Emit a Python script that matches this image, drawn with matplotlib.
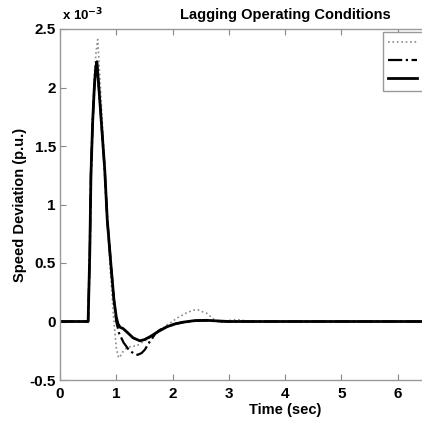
import matplotlib
matplotlib.use("Agg")
import matplotlib.pyplot as plt

plt.rcParams['font.family'] = ['Liberation Sans', 'DejaVu Sans']
plt.rcParams['font.weight'] = 'bold'

# Speed deviation values in units of 1e-3 p.u.
t_dotted = [0, 0.50, 0.505, 0.53, 0.55, 0.58, 0.61, 0.64, 0.67, 0.69, 0.73, 0.79, 0.84, 0.90,
            0.95, 1.00, 1.04, 1.08, 1.13, 1.19, 1.28, 1.36, 1.45, 1.60, 1.75, 1.90, 2.00,
            2.08, 2.14, 2.25, 2.37, 2.45, 2.55, 2.61, 2.73, 2.85, 2.95, 3.02, 3.14, 3.25,
            3.35, 10]
v_dotted = [0, 0, 0.1, 0.6, 1.25, 1.75, 2.1, 2.3, 2.41, 2.25, 1.9, 1.35, 0.85, 0.4,
            0.05, -0.22, -0.31, -0.29, -0.25, -0.225, -0.21, -0.21, -0.18, -0.14, -0.085,
            -0.03, 0.0, 0.03, 0.045, 0.074, 0.097, 0.1, 0.08, 0.07, 0.02, -0.006, 0.0,
            0.01, 0.017, 0.01, 0.0, 0]

t_dashdot = [0, 0.50, 0.505, 0.53, 0.55, 0.58, 0.61, 0.635, 0.655, 0.68, 0.724, 0.795, 0.84,
             0.913, 0.96, 1.00, 1.05, 1.13, 1.22, 1.30, 1.38, 1.45, 1.51, 1.57, 1.63, 1.70,
             1.78, 1.90, 2.05, 2.20, 2.40, 2.60, 2.80, 3.00, 10]
v_dashdot = [0, 0, 0.1, 0.6, 1.25, 1.7, 2.0, 2.17, 2.22, 2.07, 1.78, 1.30, 0.87,
             0.44, 0.18, 0.0, -0.1, -0.18, -0.24, -0.27, -0.285, -0.27, -0.24, -0.19, -0.15,
             -0.1, -0.07, -0.045, -0.02, -0.005, 0.005, 0.008, 0.003, 0, 0]

t_solid = [0, 0.50, 0.505, 0.53, 0.55, 0.58, 0.61, 0.635, 0.655, 0.68, 0.724, 0.795, 0.84,
           0.913, 0.96, 1.00, 1.03, 1.07, 1.12, 1.19, 1.30, 1.42, 1.50, 1.60, 1.75, 1.90,
           2.05, 2.20, 2.40, 2.60, 2.80, 3.00, 10]
v_solid = [0, 0, 0.1, 0.6, 1.25, 1.7, 2.0, 2.17, 2.22, 2.07, 1.78, 1.30, 0.87,
           0.44, 0.18, 0.04, -0.02, -0.05, -0.06, -0.09, -0.14, -0.165, -0.155, -0.13,
           -0.085, -0.045, -0.02, -0.005, 0.008, 0.01, 0.005, 0.0, 0]

labels = ['CPSS', 'GA-PSS', 'Proposed PSS']
x_ticks = [0, 1, 2, 3, 4, 5, 6]
y_ticks = [-0.5, 0, 0.5, 1, 1.5, 2, 2.5]
y_ticklabels = ['-0.5', '0', '0.5', '1', '1.5', '2', '2.5']

W, H = 422, 425
fig = plt.figure(figsize=(W / 100, H / 100), dpi=100)
ax = fig.add_axes([60 / W, 45 / H, 450 / W, 351 / H])

ax.plot(t_dotted, v_dotted, color='#8a8a8a', linestyle=':', linewidth=1.2, label=labels[0])
ax.plot(t_dashdot, v_dashdot, color='black', linestyle='-.', linewidth=1.6, label=labels[1])
ax.plot(t_solid, v_solid, color='black', linestyle='-', linewidth=2.0, label=labels[2])

ax.set_xlim(0, 8)
ax.set_ylim(-0.5, 2.5)
ax.set_xticks(x_ticks)
ax.set_yticks(y_ticks)
ax.set_yticklabels(y_ticklabels)
ax.tick_params(direction='in', length=4, width=0.8, colors='#888888', labelcolor='black',
               labelsize=11, top=True, right=True)
ax.tick_params(axis='x', pad=5)
ax.tick_params(axis='y', pad=3)
for lab in ax.get_xticklabels() + ax.get_yticklabels():
    lab.set_fontweight('bold')
for s in ax.spines.values():
    s.set_color('#999999')
    s.set_linewidth(1.0)

ax.set_title('Lagging Operating Conditions', fontsize=10.5, fontweight='bold', pad=7)
ax.set_xlabel('Time (sec)', fontsize=10.5, fontweight='bold')
ax.xaxis.set_label_coords(0.5, -(410 - 380) / 351)
ax.xaxis.label.set_va('center')
ax.set_ylabel('Speed Deviation (p.u.)', fontsize=10.5, fontweight='bold')
ax.yaxis.set_label_coords((20 - 60) / 450, 0.5)
ax.yaxis.label.set_va('center')
fig.text(62 / W, 1 - 15 / H, 'x 10$^{\\mathbf{-3}}$', fontsize=9.5, fontweight='bold',
         ha='left', va='center')

leg = ax.legend(loc='upper left', bbox_to_anchor=((383 - 60) / 450, (380 - 32) / 351),
                borderaxespad=0, fancybox=False, edgecolor='#999999', fontsize=9,
                handlelength=2.3, framealpha=1)
leg.get_frame().set_linewidth(1.0)

fig.savefig('out.png', dpi=100)
